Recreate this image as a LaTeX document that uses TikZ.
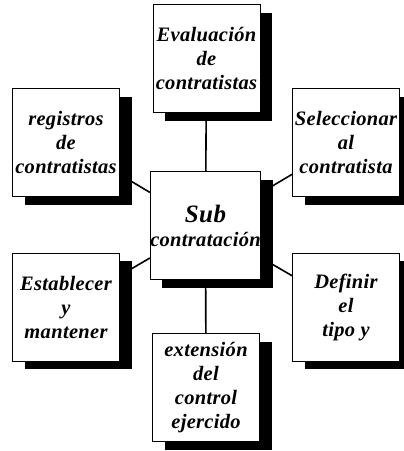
\documentclass[tikz,border=0pt]{standalone}
\usepackage{fontspec}
\setmainfont{Liberation Serif}[LetterSpace=1.5]
\usetikzlibrary{shadows,backgrounds}
\tikzset{
    caja/.style={draw, line width=0.8pt, fill=white, inner sep=0pt,
        minimum width=107pt, minimum height=108pt, align=center,
        font=\fontsize{20.5}{24}\selectfont\bfseries\itshape,
        drop shadow={shadow xshift=12pt, shadow yshift=-8pt, fill=black, opacity=1}},
    enlace/.style={line width=1.6pt}
}
\begin{document}
\begin{tikzpicture}[x=1pt,y=-1pt]
    \useasboundingbox (0,0) rectangle (404,451);
    \node[caja] (sub) at (205.5,225.5) {{\fontsize{25}{26}\selectfont Sub}\\contratación};
    \node[caja] (eval) at (206.5,58.5) {Evaluación\\de\\contratistas};
    \node[caja] (reg) at (66,142.5) {registros\\de\\contratistas};
    \node[caja] (sel) at (346,142.5) {Seleccionar\\al\\contratista};
    \node[caja] (est) at (66,307) {Establecer\\y\\mantener};
    \node[caja] (def) at (346,307) {Definir\\el\\tipo y};
    \node[caja] (ext) at (206,387.5) {extensión\\del\\control\\ejercido};
    % lineas detras de las cajas
    \begin{scope}[on background layer]
    \draw[enlace] (sub) -- (eval);
    \draw[enlace] (sub) -- (reg);
    \draw[enlace] (sub) -- (sel);
    \draw[enlace] (sub) -- (est);
    \draw[enlace] (sub) -- (def);
    \draw[enlace] (sub) -- (ext);
    \end{scope}
\end{tikzpicture}
\end{document}
